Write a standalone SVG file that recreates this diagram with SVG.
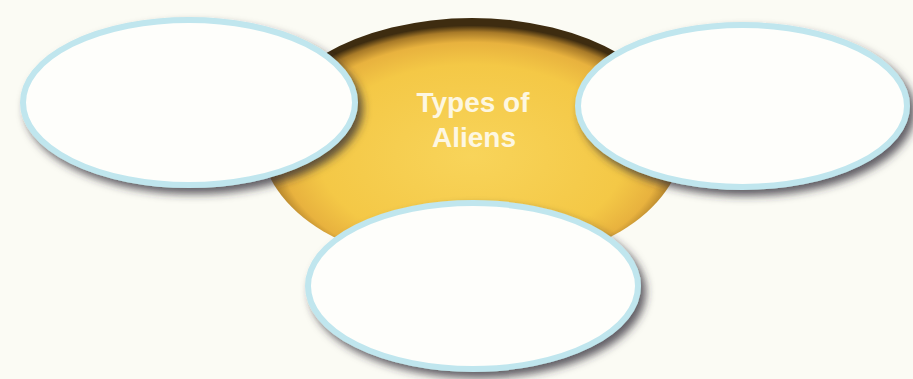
<svg xmlns="http://www.w3.org/2000/svg" width="913" height="379" viewBox="0 0 913 379">
  <defs>
    <radialGradient id="sunGrad" cx="0.5" cy="0.55" r="0.52">
      <stop offset="0" stop-color="#f8d45a"/>
      <stop offset="0.7" stop-color="#f4c846"/>
      <stop offset="0.87" stop-color="#e8b23e"/>
      <stop offset="0.95" stop-color="#a87a28"/>
      <stop offset="1" stop-color="#3e2c10"/>
    </radialGradient>
    <filter id="shadow" x="-10%" y="-10%" width="125%" height="130%">
      <feGaussianBlur in="SourceAlpha" stdDeviation="4.5"/>
      <feOffset dx="5" dy="6" result="b"/>
      <feFlood flood-color="#2e2a36" flood-opacity="0.75"/>
      <feComposite in2="b" operator="in"/>
      <feMerge>
        <feMergeNode/>
        <feMergeNode in="SourceGraphic"/>
      </feMerge>
    </filter>
  </defs>
  <style>
    .bubble { fill: #fefefb; stroke: #c0e6ee; stroke-width: 6; filter: url(#shadow); }
    .title { font-family: "Liberation Sans", Arial, sans-serif; font-weight: bold; font-size: 28px; fill: #fdf7e2; text-anchor: middle; }
  </style>
  <rect width="913" height="379" fill="#fbfbf4"/>

  <g id="center">
    <ellipse cx="472" cy="143" rx="210" ry="125" fill="url(#sunGrad)"/>
    <text class="title" x="473" y="112">Types of</text>
    <text class="title" x="474" y="147">Aliens</text>
  </g>

  <g id="connectors"></g>

  <g id="node-left">
    <ellipse class="bubble" cx="189" cy="102.5" rx="166" ry="82.5"/>
  </g>
  <g id="node-right">
    <ellipse class="bubble" cx="742.5" cy="106" rx="164.5" ry="81"/>
  </g>
  <g id="node-bottom">
    <ellipse class="bubble" cx="473" cy="286" rx="165" ry="83"/>
  </g>
</svg>
